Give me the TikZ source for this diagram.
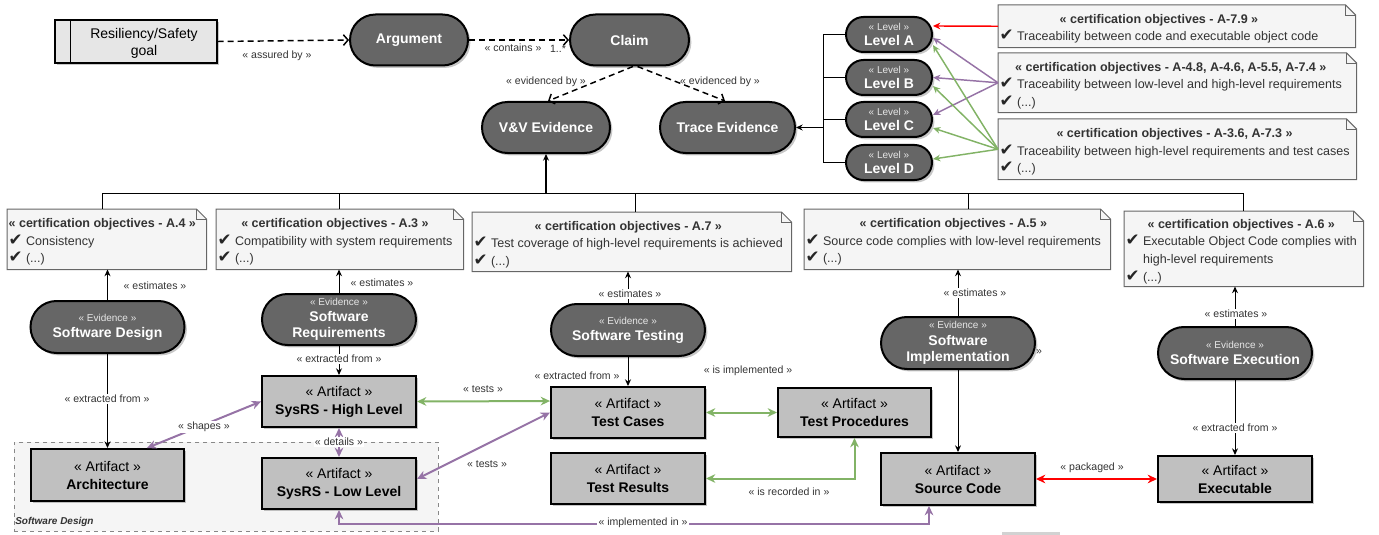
\documentclass[tikz,border=0pt]{standalone}
\usepackage{fontspec}
\setmainfont{Liberation Sans}
\newfontfamily\symfont{DejaVu Sans}
\usetikzlibrary{arrows.meta,shapes.misc,shadows,calc}

\definecolor{evfill}{HTML}{666666}
\definecolor{evtxt}{HTML}{E6E6E6}
\definecolor{artfill}{HTML}{C0C0C0}
\definecolor{notefill}{HTML}{F5F5F5}
\definecolor{noteedge}{HTML}{666666}
\definecolor{txt}{HTML}{333333}
\definecolor{vio}{HTML}{9673A6}
\definecolor{grn}{HTML}{82B366}
\definecolor{goalfill}{HTML}{E6E6E6}
\definecolor{grpfill}{HTML}{F5F5F5}
\definecolor{grpedge}{HTML}{888888}

\newcommand\ck{{\symfont\fontsize{12.5}{12}\selectfont\color{black!85}✔}}
\newcommand\evl{{\fontsize{7.5}{9}\selectfont\mdseries\color{evtxt}« Evidence »}}
\newcommand\lvl{{\fontsize{7.5}{9}\selectfont\mdseries\color{evtxt}« Level »}}
\newcommand\art{\mdseries « Artifact »}

\tikzset{
  shade3/.style={drop shadow={shadow xshift=1.8pt,shadow yshift=-1.8pt,fill=black,opacity=0.22}},
  big/.style={rounded rectangle, draw=black, line width=1.5pt, fill=evfill, text=white,
    shade3, inner sep=0pt, minimum height=38.25pt, font=\fontsize{10.5}{12.5}\selectfont\bfseries},
  evid/.style={rounded rectangle, draw=black, line width=1.5pt, fill=evfill, text=white,
    shade3, inner sep=0pt, minimum width=115.5pt, minimum height=39pt, align=center,
    font=\fontsize{10.5}{12.2}\selectfont\bfseries},
  lev/.style={rounded rectangle, draw=black, line width=1.5pt, fill=evfill, text=white,
    shade3, inner sep=0pt, minimum width=64.5pt, minimum height=26.25pt, align=center,
    font=\fontsize{10.5}{11.5}\selectfont\bfseries},
  artbox/.style={rectangle, draw=black, line width=1.5pt, fill=artfill, text=black,
    shade3, inner sep=0pt, minimum width=115.5pt, minimum height=38.25pt, align=center,
    font=\fontsize{10.5}{13.5}\selectfont\bfseries},
  goalbox/.style={rectangle, draw=black, line width=1.1pt, fill=goalfill, shade3, inner sep=0pt},
  goaltxt/.style={align=center, inner sep=0pt, font=\fontsize{10.5}{13}\selectfont},
  grp/.style={rectangle, draw=grpedge, fill=grpfill, dashed, line width=0.6pt, inner sep=0pt},
  grplbl/.style={inner sep=0pt, text=txt, font=\fontsize{7.5}{9}\selectfont\bfseries\itshape},
  notebase/.style={rectangle, draw=none, fill=none, inner sep=0pt},
  notepaint/.style={fill=notefill, draw=noteedge, line width=0.75pt, line join=miter},
  notetext/.style={inner sep=0pt, text=txt, font=\fontsize{9.4}{13.2}\selectfont},
  lbl/.style={inner sep=1pt, text=txt, font=\fontsize{7.9}{9.5}\selectfont},
  lblw/.style={lbl, fill=white},
  wire/.style={draw=black, line width=0.75pt},
  blkA/.style={draw=black, line width=0.75pt, -{Stealth[length=5pt,width=4.5pt]}},
  dsh/.style={draw=black, line width=1.1pt, dash pattern=on 4.5pt off 3pt,
    -{Straight Barb[length=3.5pt,width=8pt]}},
  thinvio/.style={draw=vio, line width=1.1pt, -{Stealth[length=5.5pt,width=5pt]}},
  thingrn/.style={draw=grn, line width=1.1pt, -{Stealth[length=5.5pt,width=5pt]}},
  thinred/.style={draw=red, line width=1.1pt, -{Stealth[length=5.5pt,width=5pt]}},
  vioAA/.style={draw=vio, line width=1.5pt, {Stealth[length=7pt,width=6.5pt]}-{Stealth[length=7pt,width=6.5pt]}},
  grnAA/.style={draw=grn, line width=1.5pt, {Stealth[length=7pt,width=6.5pt]}-{Stealth[length=7pt,width=6.5pt]}},
  redAA/.style={draw=red, line width=1.5pt, {Stealth[length=7pt,width=6.5pt]}-{Stealth[length=7pt,width=6.5pt]}},
}

% note with a folded top-right corner: name, north-west corner, width, height, text
\newcommand\certnote[5]{%
  \node[notebase, minimum width=#3, minimum height=#4, anchor=north west] (#1) at #2 {};
  \path[notepaint] (#1.north west) -- ([xshift=-7.5pt]#1.north east)
    -- ([yshift=-7.5pt]#1.north east) -- (#1.south east) -- (#1.south west) -- cycle;
  \draw[draw=noteedge, line width=0.4pt] ([xshift=-7.5pt]#1.north east) -- ++(0,10)
    -- ([yshift=-7.5pt]#1.north east);
  \node[notetext, anchor=west] (#1-txt) at ([xshift=1pt,yshift=-1.8pt]#1.west) {#5};
}
\newcommand\ctitle[1]{\multicolumn{1}{@{}c@{}}{\bfseries « certification objectives - #1 »}}

\begin{document}
\begin{tikzpicture}[x=0.75pt,y=-0.75pt]
\path[use as bounding box] (0,0) rectangle (1379,535);

% ---------- Software Design container ----------
\node[grp, minimum width=318pt, minimum height=66.75pt, anchor=north west] (grp) at (14,442) {};
\node[grplbl, anchor=west] (grplbl) at (15,522) {Software Design};

% ---------- argument chain ----------
\node[goalbox, minimum width=121.5pt, minimum height=32.25pt] (goal) at (136,41.5) {};
\draw[black, line width=1.1pt] ([xshift=12pt]goal.north west) -- ([xshift=12pt]goal.south west);
\node[goaltxt] (goaltxt) at (144,43.5) {Resiliency/Safety\\goal};

\node[big, minimum width=88.5pt] (arg) at (409,40) {Argument};
\node[big, minimum width=89.25pt] (claim) at (629.5,40) {Claim};
\node[big, minimum width=96pt] (vv) at (546,127.5) {V\&V Evidence};
\node[big, minimum width=101.25pt] (trace) at (727.5,127.5) {Trace Evidence};

\draw[dsh] (goal.east) -- (arg.west);
\node[lbl] (l-assured) at (277,56) {« assured by »};
\draw[dsh] (arg.east) -- (claim.west);
\node[lbl] (l-contains) at (513,48) {« contains »};
\node[lbl] (l-mult) at (558,49) {1..*};
\draw[dsh] ([xshift=2.6pt]claim.south) -- ([xshift=1.5pt]vv.north);
\node[lbl] (l-ev1) at (546,82) {« evidenced by »};
\draw[dsh] ([xshift=6pt]claim.south) -- ([xshift=-1.8pt]trace.north);
\node[lbl] (l-ev2) at (720,82) {« evidenced by »};

% ---------- assurance levels ----------
\node[lev] (levA) at (889,34.5) {\lvl\\Level A};
\node[lev] (levB) at (889,77.5) {\lvl\\Level B};
\node[lev] (levC) at (889,119.5) {\lvl\\Level C};
\node[lev] (levD) at (889,162.5) {\lvl\\Level D};

\coordinate (brA) at (823,34.5);
\coordinate (brB) at (823,77.5);
\coordinate (brC) at (823,119.5);
\coordinate (brD) at (823,162.5);
\coordinate (brT) at (823,127.5);
\draw[wire] (levA.west) -- (brA) -- (brD) -- (levD.west);
\draw[wire] (levB.west) -- (brB);
\draw[wire] (levC.west) -- (brC);
\draw[blkA] (brT) -- (trace.east);

% ---------- traceability objectives ----------
\certnote{n79}{(998,5)}{267.75pt}{31.5pt}{\begin{tabular}{@{}l@{}}\ctitle{A-7.9}\\
  \ck\ Traceability between code and executable object code\end{tabular}}
\certnote{n48}{(998,53)}{268.5pt}{44.25pt}{\begin{tabular}{@{}l@{}}\ctitle{A-4.8, A-4.6, A-5.5, A-7.4}\\
  \ck\ Traceability between low-level and high-level requirements\\ \ck\ (...)\end{tabular}}
\certnote{n36}{(998,119)}{268.5pt}{45pt}{\begin{tabular}{@{}l@{}}\ctitle{A-3.6, A-7.3}\\
  \ck\ Traceability between high-level requirements and test cases\\ \ck\ (...)\end{tabular}}

\draw[thinred] (n79.west) -- ([yshift=6.4pt]levA.east);
\draw[thinvio] (n48.west) -- ([yshift=-2.6pt]levA.east);
\draw[thinvio] (n48.west) -- (levB.east);
\draw[thinvio] (n48.west) -- ([yshift=3.4pt]levC.east);
\draw[thingrn] (n36.west) -- ([yshift=-7.9pt]levA.east);
\draw[thingrn] (n36.west) -- ([yshift=-6.4pt]levB.east);
\draw[thingrn] (n36.west) -- ([yshift=-6.4pt]levC.east);
\draw[thingrn] (n36.west) -- ([yshift=2.6pt]levD.east);

% ---------- process objectives ----------
\certnote{nA4}{(7,209)}{149.25pt}{45pt}{\begin{tabular}{@{}l@{}}\ctitle{A.4}\\
  \ck\ Consistency\\ \ck\ (...)\end{tabular}}
\certnote{nA3}{(216,209)}{185.25pt}{45pt}{\begin{tabular}{@{}l@{}}\ctitle{A.3}\\
  \ck\ Compatibility with system requirements\\ \ck\ (...)\end{tabular}}
\certnote{nA7}{(472,212)}{239.25pt}{44.25pt}{\begin{tabular}{@{}l@{}}\ctitle{A.7}\\
  \ck\ Test coverage of high-level requirements is achieved\\ \ck\ (...)\end{tabular}}
\certnote{nA5}{(804,209)}{229.5pt}{45pt}{\begin{tabular}{@{}l@{}}\ctitle{A.5}\\
  \ck\ Source code complies with low-level requirements\\ \ck\ (...)\end{tabular}}
\certnote{nA6}{(1124,211)}{179.25pt}{56.25pt}{\begin{tabular}{@{}l@{}}\ctitle{A.6}\\
  \ck\ Executable Object Code complies with\\ \phantom{\ck\ }high-level requirements\\ \ck\ (...)\end{tabular}}

% bus joining the objectives to V&V Evidence
\coordinate (b1) at (102,193);
\coordinate (b2) at (339,193);
\coordinate (bv) at (546,193);
\coordinate (b3) at (635,193);
\coordinate (b4) at (968,193);
\coordinate (b5) at (1243,193);
\draw[wire] (b1) -- (b5);
\draw[wire] (b1) -- (b1 |- nA4.north);
\draw[wire] (b2) -- (b2 |- nA3.north);
\draw[wire] (b3) -- (b3 |- nA7.north);
\draw[wire] (b4) -- (b4 |- nA5.north);
\draw[wire] (b5) -- (b5 |- nA6.north);
\draw[blkA, line width=1.1pt] (bv) -- (vv.south);

% ---------- evidence ----------
\node[evid] (sd) at (107.5,327) {\evl\\Software Design};
\node[evid, minimum height=38.25pt] (sr) at (339,319.5) {\evl\\Software\\Requirements};
\node[evid] (st) at (628,330) {\evl\\Software Testing};
\node[evid] (si) at (958,343) {\evl\\Software\\Implementation};
\node[evid] (se) at (1235,353) {\evl\\Software Execution};

% ---------- artifacts ----------
\node[artbox] (hl) at (339,401.5) {\art\\SysRS - High Level};
\node[artbox] (ll) at (339,483.5) {\art\\SysRS - Low Level};
\node[artbox, minimum width=114.75pt, minimum height=39pt] (arch) at (107.5,475) {\art\\Architecture};
\node[artbox] (tc) at (628,412.5) {\art\\Test Cases};
\node[artbox, minimum width=114.75pt, minimum height=36.75pt] (tp) at (854.5,412.5) {\art\\Test Procedures};
\node[artbox] (tr) at (628,478.5) {\art\\Test Results};
\node[artbox, minimum height=39pt] (sc) at (958,479) {\art\\Source Code};
\node[artbox, minimum height=34.5pt] (ex) at (1235,479) {\art\\Executable};

% ---------- evidence relations ----------
\draw[blkA] (sd.north) -- (sd.north |- nA4.south);
\node[lbl] (l-est1) at (155,286) {« estimates »};
\draw[blkA] (sr.north) -- (sr.north |- nA3.south);
\node[lbl] (l-est2) at (382,283) {« estimates »};
\draw[blkA] (st.north) -- (st.north |- nA7.south);
\node[lblw] (l-est3) at (630,294) {« estimates »};
\draw[blkA] (si.north) -- (si.north |- nA5.south);
\node[lblw] (l-est4) at (975,293) {« estimates »};
\draw[blkA] (se.north) -- (se.north |- nA6.south);
\node[lblw] (l-est5) at (1236,314) {« estimates »};
\node[lbl] (l-stray) at (1039,352) {»};

\draw[blkA] (sd.south) -- (arch.north);
\node[lblw] (l-ex1) at (107,399) {« extracted from »};
\draw[blkA] (sr.south) -- (hl.north);
\node[lblw] (l-ex2) at (339,359) {« extracted from »};
\draw[blkA] (st.south) -- (tc.north);
\node[lbl] (l-ex3) at (577,376) {« extracted from »};
\draw[blkA] (si.south) -- (sc.north);
\draw[blkA] (se.south) -- (ex.north);
\node[lblw] (l-ex4) at (1235,428) {« extracted from »};

% ---------- artifact relations ----------
\draw[vioAA] ([xshift=29.6pt]arch.north) -- (hl.west);
\node[lblw] (l-shapes) at (204,427) {« shapes »};
\draw[vioAA] (hl.south) -- (ll.north);
\node[lblw] (l-details) at (339,442) {« details »};
\draw[grnAA] (hl.east) -- ([yshift=8.6pt]tc.west);
\node[lbl] (l-tests1) at (483,389) {« tests »};
\draw[vioAA] ([yshift=3.4pt]ll.east) -- (tc.west);
\node[lbl] (l-tests2) at (487,464) {« tests »};
\draw[grnAA] (tc.east) -- (tp.west);
\node[lbl] (l-isimpl) at (748,371) {« is implemented »};
\draw[grnAA] (tr.east) -| (tp.south);
\node[lbl] (l-rec) at (789,492) {« is recorded in »};
\draw[vioAA] (ll.south) -- ++(0,14) -| ([xshift=-21.75pt]sc.south);
\node[lblw] (l-implin) at (643,523) {« implemented in »};
\draw[redAA] (sc.east) -- (ex.west);
\node[lbl] (l-pack) at (1092,468) {« packaged »};

% small grey mark along the bottom edge
\fill[gray!35] (1002,532) rectangle (1060,535);
\end{tikzpicture}
\end{document}
